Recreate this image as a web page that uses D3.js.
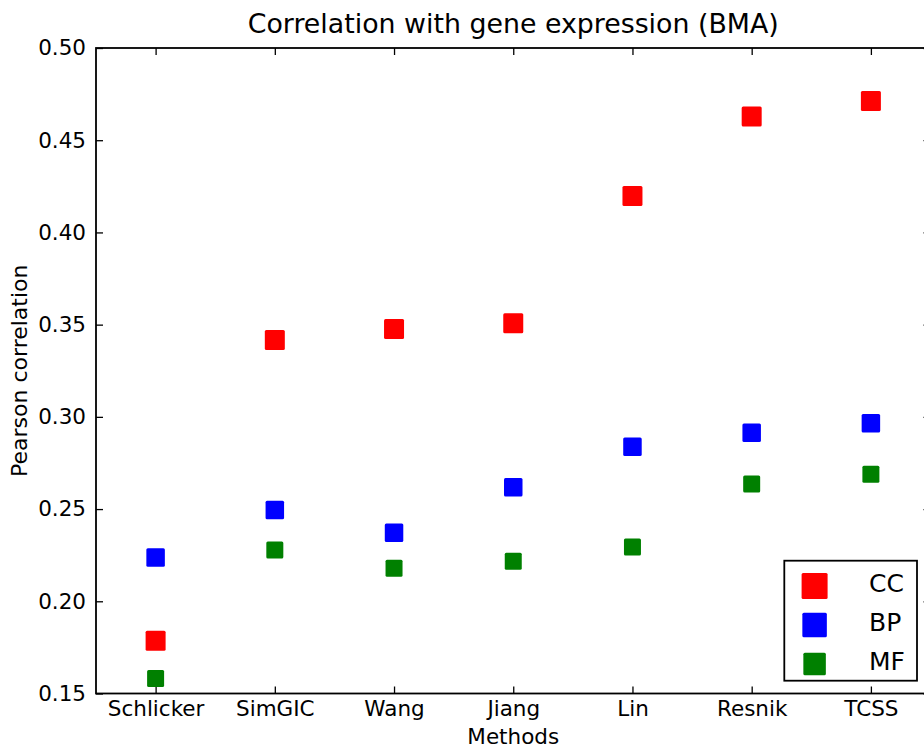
<!DOCTYPE html>
<html><head><meta charset="utf-8">
<script src="https://cdn.jsdelivr.net/npm/d3@7"></script>
<style>body{margin:0;background:#fff}svg{display:block;font-family:"DejaVu Sans",sans-serif}</style>
</head><body><svg id="chart" width="924" height="749"></svg>
<script>
const methods = ["Schlicker","SimGIC","Wang","Jiang","Lin","Resnik","TCSS"];
const ccValues = [0.1786,0.3417,0.3476,0.3507,0.4198,0.4628,0.4713];
const bpValues = [0.2238,0.2495,0.2372,0.2618,0.2838,0.2914,0.2965];
const mfValues = [0.1582,0.2278,0.2179,0.2217,0.2294,0.2636,0.2689];
const yTicks = [0.15,0.20,0.25,0.30,0.35,0.40,0.45,0.50];
const seriesNames = ["CC","BP","MF"];

const style = {
  CC:{color:"#ff0000", size:20, legendSize:26},
  BP:{color:"#0000ff", size:18.5, legendSize:24.5},
  MF:{color:"#008000", size:17, legendSize:22.5}
};
const seriesValues = {CC:ccValues, BP:bpValues, MF:mfValues};

const svg = d3.select("#chart");
const L=96, R=930.5, T=48, B=693.5;
const x = d3.scaleLinear().domain([-0.5, methods.length-0.5]).range([L,R]);
const y = d3.scaleLinear().domain([0.15,0.50]).range([B,T]);
const tickFont = "21.5px";

// axes
const gx = svg.append("g").attr("transform",`translate(0,${B})`)
  .call(d3.axisBottom(x).tickValues(d3.range(methods.length)).tickFormat(i=>methods[i])
    .tickSizeInner(-7).tickSizeOuter(0).tickPadding(7));
const gy = svg.append("g").attr("transform",`translate(${L},0)`)
  .call(d3.axisLeft(y).tickValues(yTicks).tickFormat(d3.format(".2f"))
    .tickSizeInner(-7).tickSizeOuter(0).tickPadding(10));
const gt = svg.append("g").attr("transform",`translate(0,${T})`)
  .call(d3.axisTop(x).tickValues(d3.range(methods.length)).tickFormat("")
    .tickSizeInner(-7).tickSizeOuter(0));
const gr = svg.append("g").attr("transform",`translate(${R},0)`)
  .call(d3.axisRight(y).tickValues(yTicks).tickFormat("")
    .tickSizeInner(-7).tickSizeOuter(0));
[gx,gy,gt,gr].forEach(g=>{
  g.select(".domain").remove();
  g.selectAll(".tick line").attr("stroke","#000").attr("stroke-width",1.3);
  g.selectAll(".tick text").attr("fill","#000").style("font-size",tickFont).style("font-family","DejaVu Sans");
});

// frame
svg.append("rect").attr("x",L).attr("y",T).attr("width",R-L).attr("height",B-T)
  .attr("fill","none").attr("stroke","#000").attr("stroke-width",1.8);

// markers
seriesNames.forEach(name=>{
  const s = style[name];
  svg.append("g").selectAll("rect").data(seriesValues[name]).join("rect")
    .attr("x",(d,i)=>x(i)-s.size/2).attr("y",d=>y(d)-s.size/2)
    .attr("width",s.size).attr("height",s.size).attr("rx",1.5)
    .attr("fill",s.color);
});

// titles
svg.append("text").attr("x",(L+R)/2).attr("y",33).attr("text-anchor","middle")
  .style("font-size","26.8px").attr("fill","#000").text("Correlation with gene expression (BMA)");
svg.append("text").attr("x",(L+R)/2).attr("y",744).attr("text-anchor","middle")
  .style("font-size","21.5px").attr("fill","#000").text("Methods");
svg.append("text").attr("transform",`translate(26.5,${(T+B)/2}) rotate(-90)`).attr("text-anchor","middle")
  .style("font-size","22px").attr("fill","#000").text("Pearson correlation");

// legend
const lg = svg.append("g");
lg.append("rect").attr("x",784.3).attr("y",560.7).attr("width",132.7).attr("height",120)
  .attr("fill","#fff").attr("stroke","#000").attr("stroke-width",1.8);
const legY = [586,625,664];
seriesNames.forEach((name,k)=>{
  const s = style[name];
  lg.append("rect").attr("x",814.6-s.legendSize/2).attr("y",legY[k]-s.legendSize/2)
    .attr("width",s.legendSize).attr("height",s.legendSize).attr("rx",1.5).attr("fill",s.color);
  lg.append("text").attr("x",869).attr("y",legY[k]+5.5)
    .style("font-size","25px").attr("fill","#000").text(name);
});
</script></body></html>
